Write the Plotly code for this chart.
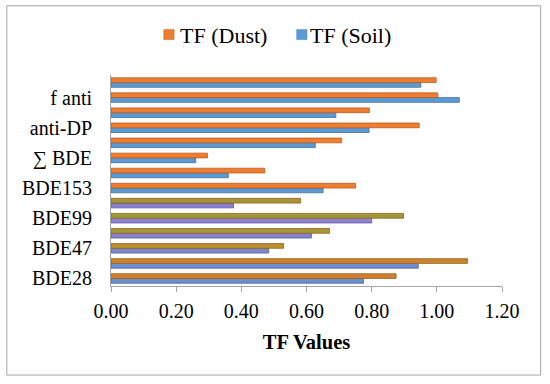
import plotly.graph_objects as go

# Categories from bottom to top (only every other one is labelled in the chart)
categories = ["BDE28", "BDE30", "BDE47", "BDE85", "BDE99", "BDE100", "BDE153",
              "BDE183", "∑ BDE", "syn-DP", "anti-DP", "∑ DP", "f anti", "f syn"]
labelled = ["BDE28", "BDE47", "BDE99", "BDE153", "∑ BDE", "anti-DP", "f anti"]

tf_dust = [0.875, 1.094, 0.530, 0.671, 0.898, 0.582, 0.751,
           0.472, 0.296, 0.708, 0.946, 0.793, 1.003, 0.998]
tf_soil = [0.775, 0.943, 0.484, 0.615, 0.800, 0.376, 0.651,
           0.360, 0.260, 0.627, 0.792, 0.690, 1.069, 0.951]

series_names = ["TF (Dust)", "TF (Soil)"]
x_ticks = [0, 0.2, 0.4, 0.6, 0.8, 1.0, 1.2]

ORANGE, BLUE = "#ED7D31", "#5B9BD5"
# per-bar fill colours as they appear in the picture
dust_colors = ["#D0802E", "#C8852E", "#B8902E", "#A39838", "#9C9A36", "#A3953A"] + [ORANGE] * 8
soil_colors = ["#6A90D0", "#7090D2", "#7A8ACD", "#8A80D0", "#9480D6", "#8C7ED0"] + [BLUE] * 8
dust_line = ["#A06020"] * 6 + ["#C05A1E"] * 8
soil_line = ["#4A5FA0"] * 6 + ["#41719C"] * 8

fig = go.Figure()
fig.add_trace(go.Bar(
    y=categories, x=tf_soil, orientation="h", name=series_names[1],
    marker=dict(color=soil_colors, line=dict(color=soil_line, width=0.8)),
    showlegend=False,
))
fig.add_trace(go.Bar(
    y=categories, x=tf_dust, orientation="h", name=series_names[0],
    marker=dict(color=dust_colors, line=dict(color=dust_line, width=0.8)),
    showlegend=False,
))

L, R, T, B = 111.3, 501.7, 75.3, 285.7
W, H = R - L, B - T

def px(xp):
    return (xp - L) / W

def py(yp):
    return (B - yp) / H

shapes = [dict(type="rect", xref="paper", yref="paper",
               x0=px(7.3), x1=px(540.3), y0=py(374.5), y1=py(6.3),
               line=dict(color="#A6A6A6", width=1), fillcolor="rgba(0,0,0,0)", layer="below")]
annotations = []
# manual legend: squares + labels
legend_items = [(series_names[0], ORANGE, "#C8662A", 164.0, 180.0),
                (series_names[1], BLUE, "#4A86BE", 296.7, 309.5)]
for name, col, lcol, sx, tx in legend_items:
    shapes.append(dict(type="rect", xref="paper", yref="paper",
                       x0=px(sx), x1=px(sx + 10.3), y0=py(40), y1=py(30),
                       fillcolor=col, line=dict(color=lcol, width=0.5)))
    annotations.append(dict(text=name, xref="paper", yref="paper", x=px(tx), y=py(35.5),
                            xanchor="left", yanchor="middle", showarrow=False,
                            font=dict(size=22), borderpad=0, xshift=-1))

fig.update_layout(
    width=550, height=384,
    margin=dict(l=L, r=550 - R, t=T, b=384 - B, pad=0),
    paper_bgcolor="white", plot_bgcolor="white",
    barmode="group", bargap=0.37, bargroupgap=0,
    font=dict(family="Liberation Serif, Times New Roman, serif", size=20, color="#000000"),
    showlegend=False,
    xaxis=dict(range=[0, 1.2], tickvals=x_ticks, ticktext=[f"{v:.2f}" for v in x_ticks],
               showgrid=False, zeroline=False, showline=True, linecolor="#A6A6A6", linewidth=1,
               ticks="outside", ticklen=5, tickcolor="#A6A6A6", ticklabelstandoff=2,
               tickfont=dict(size=20), automargin=False,
               title=dict(text="<b>TF Values</b>", font=dict(size=20.5), standoff=13)),
    yaxis=dict(type="category", categoryorder="array", categoryarray=categories,
               tickvals=labelled, ticktext=labelled,
               showgrid=False, zeroline=False, showline=True, linecolor="#A6A6A6", linewidth=1,
               ticks="", ticklabelstandoff=14, tickfont=dict(size=20), automargin=False,
               range=[-0.5, len(categories) - 0.5]),
    shapes=shapes,
    annotations=annotations,
)

fig.write_html("out.html", config={"displayModeBar": False},
               post_script="document.body.style.margin='0px';")
